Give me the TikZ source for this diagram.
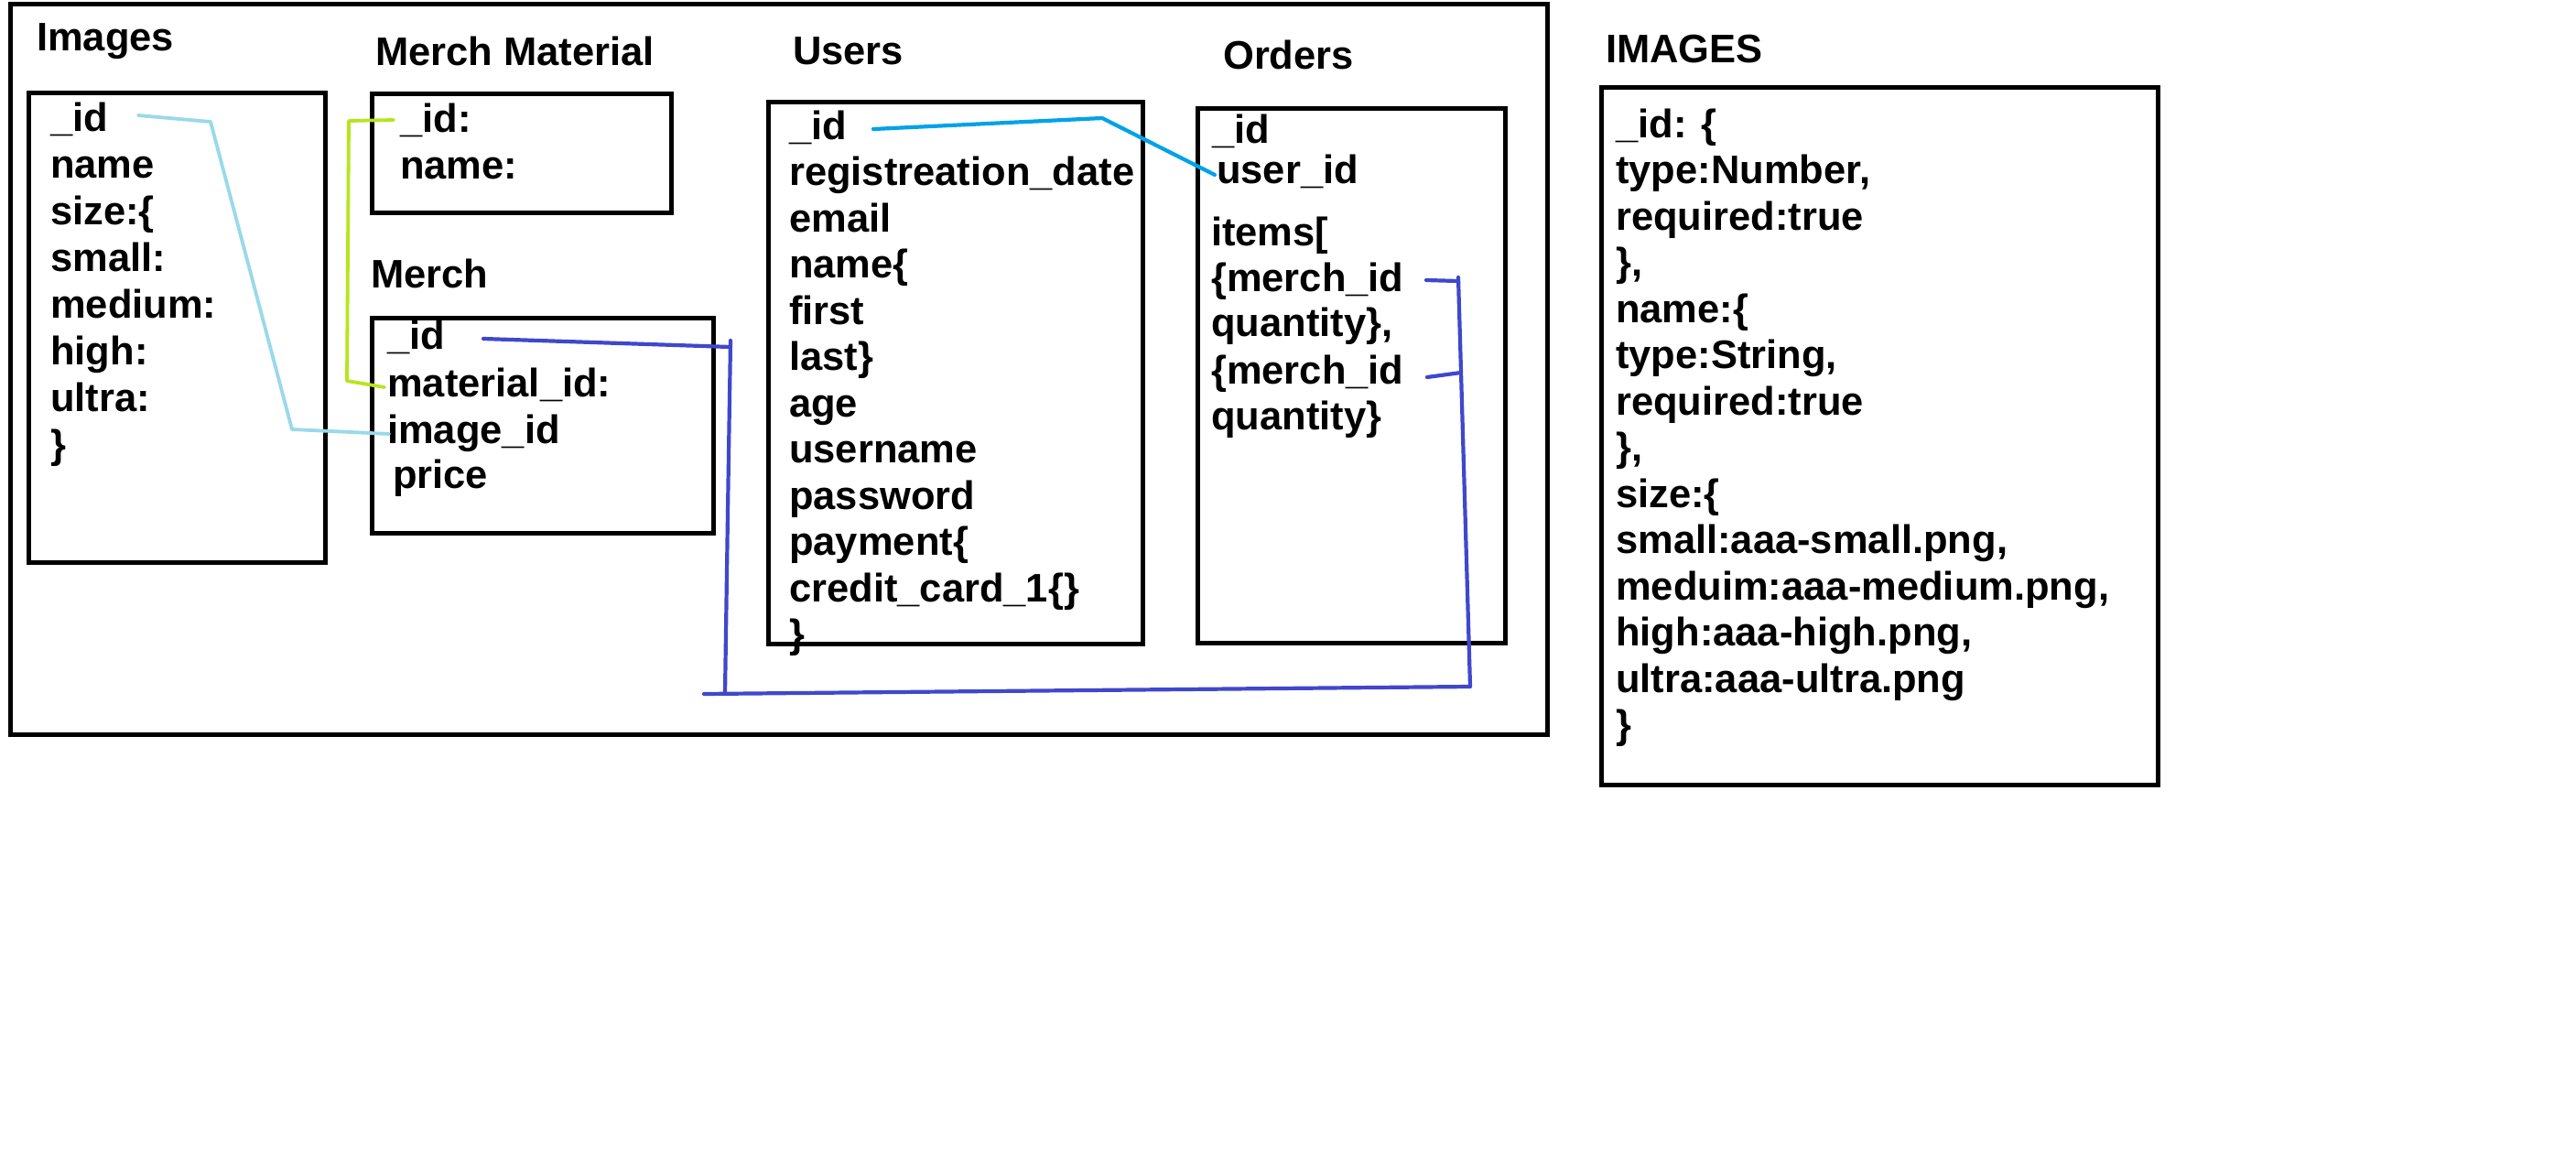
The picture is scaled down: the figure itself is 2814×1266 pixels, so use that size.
\documentclass[tikz,border=0pt]{standalone}
\usepackage{fontspec}
\setmainfont{Liberation Sans}
\definecolor{lblue}{HTML}{99D9EA}
\definecolor{limeg}{HTML}{B5E61D}
\definecolor{cyanl}{HTML}{00A2E8}
\definecolor{indigo}{HTML}{3F48CC}
\begin{document}
\begin{tikzpicture}[x=1pt,y=-1pt,
  box/.style={draw=black, line width=4.5pt, anchor=north west, inner sep=0pt},
  field/.style={anchor=base west, inner sep=0pt, font=\fontsize{43.5}{50}\selectfont\bfseries},
  lnk/.style={line width=3.8pt, line join=round, line cap=round},
  lnkb/.style={line width=4.2pt, line join=round, line cap=round}]
\useasboundingbox (0,0) rectangle (2814,1266);
\fill[white] (0,0) rectangle (2814,1266);

% boxes
\node[box, minimum width=1679pt, minimum height=798pt] (frame) at (9,2) {};
\node[box, minimum width=324pt, minimum height=513pt] (imgbox) at (29,99) {};
\node[box, minimum width=327pt, minimum height=130pt] (mmbox) at (404,100) {};
\node[box, minimum width=373pt, minimum height=235pt] (merchbox) at (404,345) {};
\node[box, minimum width=409pt, minimum height=592pt] (usersbox) at (837,109) {};
\node[box, minimum width=336pt, minimum height=584pt] (ordersbox) at (1306,116) {};
\node[box, minimum width=608pt, minimum height=762pt] (schemabox) at (1747,93) {};

% titles
\node[field] (t1) at (40,55) {Images};
\node[field] (t2) at (410,71) {Merch Material};
\node[field] (t3) at (405,314) {Merch};
\node[field] (t4) at (866,70) {Users};
\node[field] (t5) at (1336,75) {Orders};
\node[field] (t6) at (1754,68) {IMAGES};

% Images fields
\foreach \t [count=\i from 0] in {\_id, name, size:\{, small:, medium:, high:, ultra:, \}}
  \node[field] (img\i) at (55,{143+51*\i}) {\t};

% Merch Material fields
\node[field] (mm0) at (437,144) {\_id:};
\node[field] (mm1) at (437,195) {name:};

% Merch fields
\node[field] (me0) at (423,381) {\_id};
\node[field] (me1) at (423,433) {material\_id:};
\node[field] (me2) at (423,484) {image\_id};
\node[field] (me3) at (429,533) {price};

% Users fields
\foreach \t [count=\i from 0] in {\_id, registreation\_date, email, name\{, first, last\}, age, username, password, payment\{, credit\_card\_1\{\}, \}}
  \node[field] (us\i) at (862,{152+50.5*\i}) {\t};

% Orders fields
\node[field] (or0) at (1324,156) {\_id};
\node[field] (or1) at (1329,200) {user\_id};
\node[field] (or2) at (1323,268) {items[};
\node[field] (or3) at (1323,318) {\{merch\_id};
\node[field] (or4) at (1323,367) {quantity\},};
\node[field] (or5) at (1323,419) {\{merch\_id};
\node[field] (or6) at (1323,469) {quantity\}};

% IMAGES schema fields
\foreach \t [count=\i from 0] in {\_id: \{, {type:Number,}, required:true, {\},}, name:\{, {type:String,}, required:true, {\},}, size:\{, {small:aaa-small.png,}, {meduim:aaa-medium.png,}, {high:aaa-high.png,}, ultra:aaa-ultra.png, \}}
  \node[field] (sc\i) at (1765,{150+50.5*\i}) {\t};

% connector points
\coordinate (a1) at (151,126);
\coordinate (a2) at (230,133);
\coordinate (a3) at (319,469);
\coordinate (a4) at (425,474);
\coordinate (g1) at (430,131);
\coordinate (g2) at (381,132);
\coordinate (g3) at (379,416);
\coordinate (g4) at (420,423);
\coordinate (c1) at (954,141);
\coordinate (c2) at (1204,129);
\coordinate (c3) at (1327,191);
\coordinate (b1) at (528,370);
\coordinate (b2) at (798,379);
\coordinate (b2t) at (798,372);
\coordinate (b3) at (795,560);
\coordinate (b4) at (792,758);
\coordinate (b4l) at (769,758);
\coordinate (b5) at (1606,750);
\coordinate (b6) at (1593,307);
\coordinate (b6t) at (1593,303);
\coordinate (b7) at (1558,306);
\coordinate (b8) at (1596,407);
\coordinate (b9) at (1559,412);

% connectors
\draw[lnk, lblue] (a1) -- (a2) -- (a3) -- (a4);
\draw[lnk, limeg] (g1) -- (g2) -- (g3) -- (g4);
\draw[lnkb, cyanl] (c1) -- (c2) -- (c3);
\draw[lnkb, indigo] (b1) -- (b2);
\draw[lnkb, indigo] (b2t) -- (b3) -- (b4);
\draw[lnkb, indigo] (b4l) -- (b5) -- (b6t);
\draw[lnkb, indigo] (b7) -- (b6);
\draw[lnkb, indigo] (b9) -- (b8);
\end{tikzpicture}
\end{document}
